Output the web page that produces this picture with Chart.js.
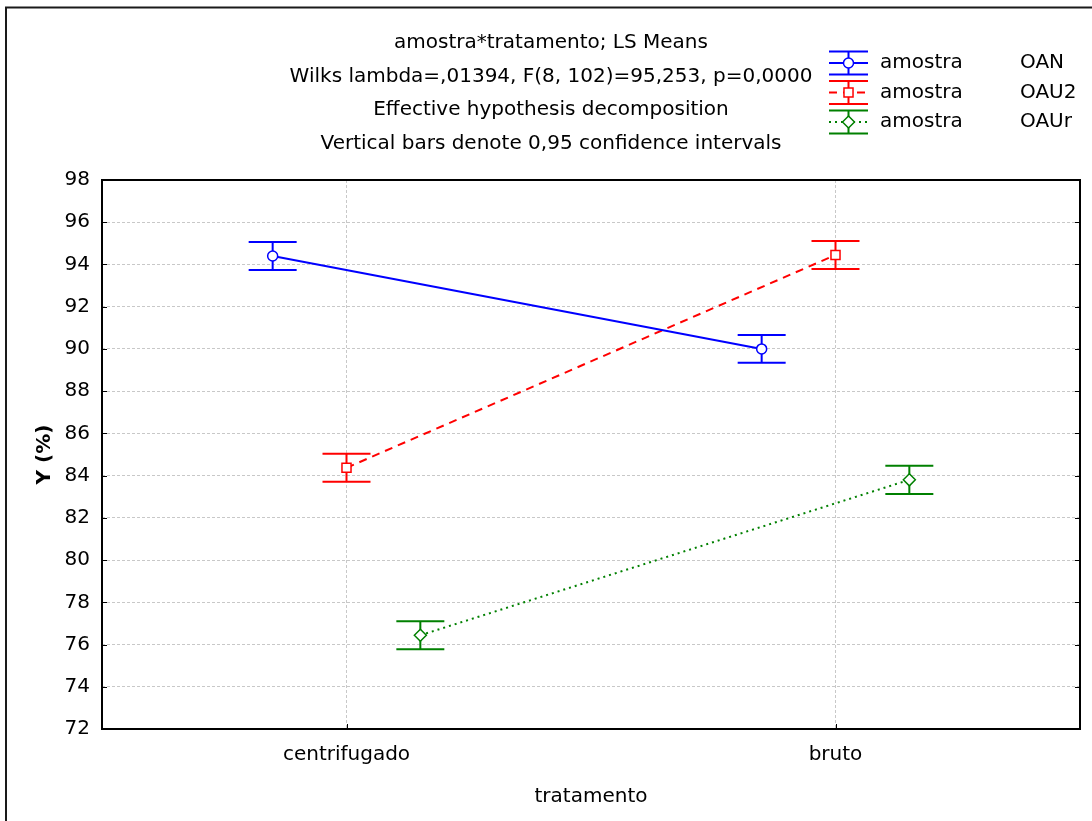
<!DOCTYPE html>
<html>
<head>
<meta charset="utf-8">
<script src="https://cdn.jsdelivr.net/npm/chart.js@4.4.0/dist/chart.umd.min.js"></script>
<style>
  html, body { margin: 0; padding: 0; background: #fff; }
</style>
</head>
<body>
<canvas id="grafico" width="1092" height="821"></canvas>
<script>
// dados (LS Means + IC 95%)
const categorias = ["centrifugado", "bruto"];
const fator = "amostra";
const amostras = ["OAN", "OAU2", "OAUr"];

const oanMedia = [94.40, 90.00];
const oanInf   = [93.74, 89.34];
const oanSup   = [95.06, 90.66];

const oau2Media = [84.37, 94.45];
const oau2Inf   = [83.71, 93.79];
const oau2Sup   = [85.03, 95.11];

const oaurMedia = [76.44, 83.80];
const oaurInf   = [75.78, 83.13];
const oaurSup   = [77.10, 84.47];

const yTicks = [72, 74, 76, 78, 80, 82, 84, 86, 88, 90, 92, 94, 96, 98];

const titulo = [
  "amostra*tratamento; LS Means",
  "Wilks lambda=,01394, F(8, 102)=95,253, p=0,0000",
  "Effective hypothesis decomposition",
  "Vertical bars denote 0,95 confidence intervals"
];

// estilos
const fonte = '"DejaVu Sans"';
const estilos = [
  { cor: "#0000ff", traco: [],     ponto: "circle",  raio: 5 },
  { cor: "#ff0000", traco: [8, 6], ponto: "rect",    raio: 6.4 },
  { cor: "#008000", traco: [2, 4], ponto: "rectRot", raio: 6 }
];
const deslocamento = [-0.151, 0, 0.151];
const meiaCapa = 24;

const medias = [oanMedia, oau2Media, oaurMedia];
const inferiores = [oanInf, oau2Inf, oaurInf];
const superiores = [oanSup, oau2Sup, oaurSup];

const datasets = amostras.map(function (nome, s) {
  return {
    label: fator + " " + nome,
    data: medias[s].map(function (v, i) { return { x: i + 1 + deslocamento[s], y: v }; }),
    inf: inferiores[s],
    sup: superiores[s],
    borderColor: estilos[s].cor,
    borderWidth: 2,
    borderDash: estilos[s].traco,
    pointStyle: estilos[s].ponto,
    pointRadius: estilos[s].raio,
    pointBorderWidth: 1.5,
    pointBorderColor: estilos[s].cor,
    pointBackgroundColor: "#ffffff",
    fill: false,
    tension: 0
  };
});

function marcador(ctx, estilo, x, y) {
  ctx.save();
  ctx.fillStyle = "#fff";
  ctx.strokeStyle = estilo.cor;
  ctx.lineWidth = 1.5;
  ctx.setLineDash([]);
  ctx.beginPath();
  if (estilo.ponto === "circle") {
    ctx.arc(x, y, estilo.raio, 0, Math.PI * 2);
  } else if (estilo.ponto === "rect") {
    const h = estilo.raio * Math.SQRT1_2;
    ctx.rect(x - h, y - h, 2 * h, 2 * h);
  } else {
    const r = estilo.raio;
    ctx.moveTo(x, y - r); ctx.lineTo(x + r, y); ctx.lineTo(x, y + r); ctx.lineTo(x - r, y); ctx.closePath();
  }
  ctx.fill();
  ctx.stroke();
  ctx.restore();
}

const barrasErro = {
  id: "barrasErro",
  beforeDatasetsDraw: function (chart) {
    const ctx = chart.ctx;
    const xs = chart.scales.x, ys = chart.scales.y;
    chart.data.datasets.forEach(function (ds, s) {
      ctx.save();
      ctx.strokeStyle = ds.borderColor;
      ctx.lineWidth = 2;
      ds.data.forEach(function (p, i) {
        const x = xs.getPixelForValue(p.x);
        const y1 = ys.getPixelForValue(ds.inf[i]);
        const y2 = ys.getPixelForValue(ds.sup[i]);
        ctx.beginPath();
        ctx.moveTo(x, y1); ctx.lineTo(x, y2);
        ctx.moveTo(x - meiaCapa, y1); ctx.lineTo(x + meiaCapa, y1);
        ctx.moveTo(x - meiaCapa, y2); ctx.lineTo(x + meiaCapa, y2);
        ctx.stroke();
      });
      ctx.restore();
    });
  }
};

const moldura = {
  id: "moldura",
  beforeDraw: function (chart) {
    const ctx = chart.ctx;
    ctx.save();
    ctx.fillStyle = "#fff";
    ctx.fillRect(0, 0, chart.width, chart.height);
    ctx.restore();
  },
  afterDraw: function (chart) {
    const ctx = chart.ctx;
    const a = chart.chartArea;
    ctx.save();
    ctx.strokeStyle = "#000";
    ctx.lineWidth = 2;
    ctx.strokeRect(a.left, a.top, a.right - a.left, a.bottom - a.top);
    ctx.lineWidth = 1;
    ctx.beginPath();
    chart.scales.y.ticks.forEach(function (t) {
      const y = Math.round(chart.scales.y.getPixelForValue(t.value)) + 0.5;
      ctx.moveTo(a.left, y); ctx.lineTo(a.left + 5, y);
      ctx.moveTo(a.right, y); ctx.lineTo(a.right - 5, y);
    });
    chart.scales.x.ticks.forEach(function (t) {
      const x = Math.round(chart.scales.x.getPixelForValue(t.value)) + 0.5;
      ctx.moveTo(x, a.bottom); ctx.lineTo(x, a.bottom - 5);
    });
    ctx.stroke();
    // borda externa
    ctx.strokeStyle = "#1a1a1a";
    ctx.lineWidth = 2;
    ctx.beginPath();
    ctx.moveTo(6, chart.height); ctx.lineTo(6, 7.5); ctx.lineTo(chart.width, 7.5);
    ctx.stroke();
    ctx.restore();
  }
};

const legenda = {
  id: "legenda",
  afterDraw: function (chart) {
    const ctx = chart.ctx;
    const x0 = 829, x1 = 868, xc = 848.5;
    chart.data.datasets.forEach(function (ds, s) {
      const yc = 63 + s * 29.5;
      const e = estilos[s];
      ctx.save();
      ctx.strokeStyle = e.cor;
      ctx.lineWidth = 2;
      ctx.beginPath();
      ctx.moveTo(x0, yc - 11.5); ctx.lineTo(x1, yc - 11.5);
      ctx.moveTo(x0, yc + 11.5); ctx.lineTo(x1, yc + 11.5);
      ctx.moveTo(xc, yc - 11.5); ctx.lineTo(xc, yc + 11.5);
      ctx.stroke();
      ctx.setLineDash(e.traco);
      ctx.beginPath();
      ctx.moveTo(x0, yc); ctx.lineTo(x1, yc);
      ctx.stroke();
      ctx.restore();
      marcador(ctx, e, xc, yc);
      ctx.save();
      ctx.fillStyle = "#000";
      ctx.font = "20px " + fonte;
      ctx.textBaseline = "middle";
      ctx.textAlign = "left";
      ctx.fillText(fator, 880, yc);
      ctx.fillText(amostras[s], 1020, yc);
      ctx.restore();
    });
  }
};

new Chart(document.getElementById("grafico").getContext("2d"), {
  type: "line",
  data: { datasets: datasets },
  options: {
    responsive: false,
    animation: false,
    devicePixelRatio: 1,
    layout: { padding: { left: 22, right: 12, top: 0, bottom: 0 } },
    plugins: {
      legend: { display: false },
      tooltip: { enabled: false },
      title: {
        display: true,
        text: titulo,
        color: "#000",
        font: { family: fonte, size: 20, weight: "normal", lineHeight: 1.68 },
        padding: { top: 26, bottom: 19.6 }
      }
    },
    scales: {
      x: {
        type: "linear",
        min: 0.5,
        max: 2.5,
        afterBuildTicks: function (s) { s.ticks = categorias.map(function (c, i) { return { value: i + 1 }; }); },
        afterFit: function (s) { s.height = 92; },
        ticks: {
          callback: function (v) { return categorias[v - 1] || ""; },
          color: "#000",
          font: { family: fonte, size: 20 },
          padding: 14,
          maxRotation: 0,
          autoSkip: false
        },
        grid: { color: "#c8c8c8", lineWidth: 1, drawTicks: false },
        border: { display: false, dash: [3, 2] },
        title: {
          display: true,
          text: "tratamento",
          color: "#000",
          font: { family: fonte, size: 20 },
          padding: { top: 0, bottom: 12 }
        }
      },
      y: {
        min: 72,
        max: 98,
        afterBuildTicks: function (s) { s.ticks = yTicks.map(function (v) { return { value: v }; }); },
        afterFit: function (s) { s.width = 80; },
        ticks: {
          color: "#000",
          font: { family: fonte, size: 20 },
          padding: 12
        },
        grid: { color: "#c8c8c8", lineWidth: 1, drawTicks: false },
        border: { display: false, dash: [3, 2] },
        title: {
          display: true,
          text: "Y (%)",
          color: "#000",
          font: { family: fonte, size: 20, weight: "bold" },
          padding: { top: 11, bottom: 0 }
        }
      }
    }
  },
  plugins: [moldura, barrasErro, legenda]
});
</script>
</body>
</html>
